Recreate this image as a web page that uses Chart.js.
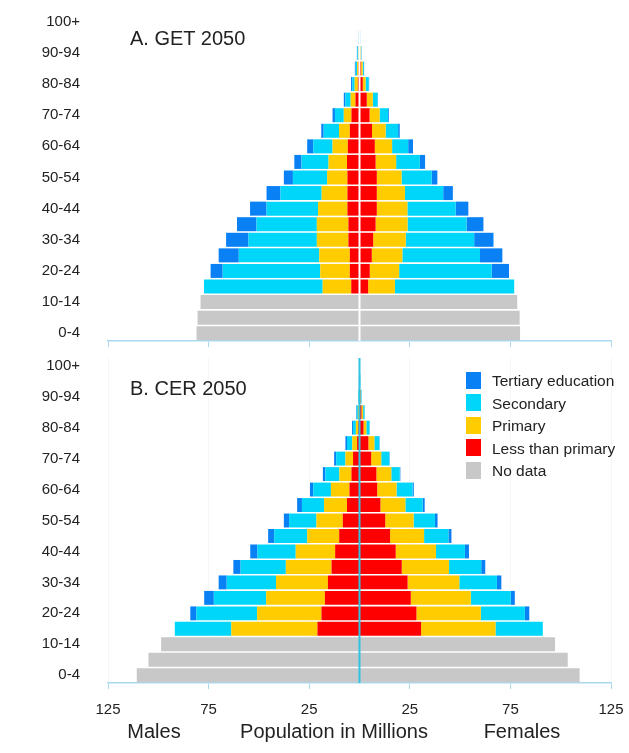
<!DOCTYPE html>
<html>
<head>
<meta charset="utf-8">
<script src="https://cdn.jsdelivr.net/npm/chart.js@4.4.1/dist/chart.umd.min.js"></script>
<style>
  body { margin: 0; background: #fff; }
  #wrap { position: relative; width: 629px; height: 753px; font-family: "Liberation Sans", Arial, Helvetica, sans-serif; color: #222; }
  canvas { position: absolute; left: 0; }
  .title { position: absolute; font-size: 20px; line-height: 20px; white-space: nowrap; }
  .foot { position: absolute; top: 721px; font-size: 20px; line-height: 20px; white-space: nowrap; transform: translateX(-50%); }
  #legend { position: absolute; left: 466px; top: 370px; font-size: 15.5px; }
  #legend div { height: 22.5px; line-height: 22.5px; white-space: nowrap; }
  #legend span { display: inline-block; width: 15px; height: 17px; vertical-align: middle; margin-right: 11px; margin-top: -3px; }
</style>
</head>
<body>
<div id="wrap">
  <canvas id="chartA" width="629" height="350" style="top:0"></canvas>
  <canvas id="chartB" width="629" height="403" style="top:350px"></canvas>
  <div class="title" style="left:130px;top:28px">A. GET 2050</div>
  <div class="title" style="left:130px;top:378px">B. CER 2050</div>
  <div id="legend"></div>
  <div class="foot" style="left:154px">Males</div>
  <div class="foot" style="left:334px">Population in Millions</div>
  <div class="foot" style="left:522px">Females</div>
</div>
<script>
// age groups, bottom to top
var ageGroups = ['0-4','5-9','10-14','15-19','20-24','25-29','30-34','35-39','40-44','45-49',
                 '50-54','55-59','60-64','65-69','70-74','75-79','80-84','85-89','90-94','95-99','100+'];
var xTicks = [-125, -75, -25, 25, 75, 125];

var levels = ['Less than primary', 'Primary', 'Secondary', 'Tertiary education', 'No data'];
var levelColors = ['#ff0000', '#ffcc00', '#00d6fa', '#0a80f5', '#c8c8c8'];
var legendOrder = [3, 2, 1, 0, 4];

// A. GET 2050 - males (millions)
var getMaleLess  = [null,null,null, 4.1, 4.8, 4.8, 5.5, 5.5, 6, 6, 6, 6.2, 5.8, 4.8, 4, 2, 0.8, 0.5, 0.2, 0.05, 0.02];
var getMalePrim  = [null,null,null, 14.2, 14.7, 15.2, 15.7, 15.7, 14.6, 12.8, 10.1, 9.2, 7.6, 5.4, 3.8, 2.4, 1.6, 0.7, 0.3, 0.1, 0.03];
var getMaleSec   = [null,null,null, 59, 48.5, 40, 34, 30, 25.6, 20.5, 17, 13.4, 9.6, 7.6, 4.4, 2.6, 1.2, 0.7, 0.5, 0.15, 0.05];
var getMaleTert  = [null,null,null, 0, 6, 10, 11.1, 9.7, 8.2, 6.9, 4.5, 3.6, 3, 1.2, 1.2, 0.8, 0.6, 0.4, 0.3, 0.1, 0.1];
var getMaleNone  = [81, 80.5, 79];
// A. GET 2050 - females
var getFemLess   = [null,null,null, 4.3, 5.1, 6.1, 6.8, 8, 8.6, 8.6, 8.6, 8, 7.6, 6.2, 5, 3.6, 1.6, 0.8, 0.3, 0.1, 0.03];
var getFemPrim   = [null,null,null, 13.3, 14.6, 15.2, 16.2, 15.9, 15.2, 14, 12.3, 10.2, 8.6, 6.8, 5, 3, 1.4, 0.8, 0.3, 0.1, 0.04];
var getFemSec    = [null,null,null, 59.3, 46, 38.6, 34, 29.3, 24, 19, 15, 11.8, 8, 6.2, 4.2, 2.4, 1.6, 0.6, 0.3, 0.1, 0.05];
var getFemTert   = [null,null,null, 0, 8.6, 11.1, 9.6, 8.4, 6.3, 4.8, 2.8, 2.6, 2.4, 0.8, 0.4, 0.2, 0.2, 0.1, 0.1, 0.05, 0.05];
var getFemNone   = [79.8, 79.6, 78.4];

// B. CER 2050 - males
var cerMaleLess  = [null,null,null, 20.9, 18.9, 17.2, 15.7, 13.9, 12.1, 10.1, 8.3, 6.2, 5, 4, 3.2, 1.2, 0.6, 0.3, 0.1, 0.02, 0.01];
var cerMalePrim  = [null,null,null, 42.8, 32, 29.2, 25.8, 22.7, 19.6, 15.9, 13.1, 11.4, 9.2, 6, 3.8, 2.4, 1.2, 0.5, 0.2, 0.05, 0.02];
var cerMaleSec   = [null,null,null, 28.1, 30.2, 26, 24.5, 22.5, 19, 16.4, 13.6, 11, 8.8, 7, 4.6, 2.6, 1.4, 0.6, 0.3, 0.15, 0.1];
var cerMaleTert  = [null,null,null, 0, 3, 4.8, 4, 3.6, 3.6, 3, 2.6, 2.4, 1.6, 1.2, 1, 0.8, 0.5, 0.3, 0.1, 0.08, 0.02];
var cerMaleNone  = [110.7, 104.9, 98.6];
// B. CER 2050 - females
var cerFemLess   = [null,null,null, 30.6, 28.3, 25.5, 23.9, 21, 18, 15.2, 12.8, 10.4, 8.8, 8.4, 5.8, 4.4, 2, 1, 0.4, 0.1, 0.03];
var cerFemPrim   = [null,null,null, 37, 32, 29.8, 25.7, 23.5, 20, 16.9, 14.1, 12.4, 9.6, 7.4, 5, 3, 1.4, 0.8, 0.3, 0.1, 0.03];
var cerFemSec    = [null,null,null, 23.5, 21.9, 19.9, 18.7, 16, 14.4, 12.1, 10.6, 8.6, 8, 4.2, 4, 2.4, 1.6, 0.7, 0.3, 0.15, 0.08];
var cerFemTert   = [null,null,null, 0, 2.2, 2, 2.2, 2, 2, 1.5, 1.3, 1, 0.6, 0.3, 0.2, 0.2, 0.1, 0.1, 0.05, 0.05, 0.02];
var cerFemNone   = [109.4, 103.5, 97.2];

// legend
var legendBox = document.getElementById('legend');
legendOrder.forEach(function(i) {
  var row = document.createElement('div');
  row.innerHTML = '<span style="background:' + levelColors[i] + '"></span>' + levels[i];
  legendBox.appendChild(row);
});

function neg(arr) {
  return arr.map(function(v) { return v == null ? null : -v; });
}

function makeDatasets(male, female) {
  var sets = [];
  male.forEach(function(arr, i) {
    sets.push({ label: levels[i], data: neg(arr), backgroundColor: levelColors[i] });
  });
  female.forEach(function(arr, i) {
    sets.push({ label: levels[i], data: arr, backgroundColor: levelColors[i] });
  });
  return sets;
}

var centerLine = {
  id: 'centerLine',
  afterDatasetsDraw: function(chart, args, opts) {
    var ctx = chart.ctx, a = chart.chartArea;
    var x = chart.scales.x.getPixelForValue(0);
    ctx.save();
    ctx.strokeStyle = opts.color;
    ctx.lineWidth = opts.width;
    ctx.beginPath();
    ctx.moveTo(x, a.top);
    ctx.lineTo(x, a.bottom);
    ctx.stroke();
    ctx.restore();
  }
};

Chart.defaults.font.family = '"Liberation Sans", Arial, Helvetica, sans-serif';
Chart.defaults.color = '#222';

function buildChart(id, male, female, opt) {
  return new Chart(document.getElementById(id), {
    type: 'bar',
    data: { labels: ageGroups, datasets: makeDatasets(male, female) },
    plugins: [centerLine],
    options: {
      indexAxis: 'y',
      responsive: false,
      animation: false,
      devicePixelRatio: 1,
      categoryPercentage: 1,
      barPercentage: 0.9,
      layout: { padding: opt.padding },
      plugins: {
        legend: { display: false },
        tooltip: { enabled: false },
        centerLine: { color: opt.lineColor, width: 2 }
      },
      scales: {
        y: {
          stacked: true,
          reverse: true,
          grid: { display: false },
          border: { display: false },
          ticks: {
            autoSkip: false,
            padding: 20,
            font: { size: 15 },
            color: '#222',
            callback: function(v, i) { return i % 2 === 0 ? this.getLabelForValue(v) : ''; }
          },
          afterFit: function(s) { s.width = 108; s.paddingTop = 0; s.paddingBottom = 0; }
        },
        x: {
          stacked: true,
          min: -125,
          max: 125,
          afterBuildTicks: function(s) { s.ticks = xTicks.map(function(v) { return { value: v }; }); },
          grid: { color: opt.gridColor, tickColor: '#a9d9ef', tickLength: 6 },
          border: { color: '#a9d9ef', width: 1.5 },
          ticks: {
            display: opt.showTicks,
            padding: 12,
            font: { size: 15 },
            color: '#222',
            callback: function(v) { return Math.abs(v); }
          },
          afterFit: function(s) { s.height = opt.xHeight; s.paddingLeft = 0; s.paddingRight = 0; }
        }
      }
    }
  });
}

buildChart('chartA',
  [getMaleLess, getMalePrim, getMaleSec, getMaleTert, getMaleNone],
  [getFemLess, getFemPrim, getFemSec, getFemTert, getFemNone],
  { padding: { top: 14, right: 18, bottom: 1, left: 0 }, lineColor: '#ffffff', gridColor: 'rgba(0,0,0,0)', showTicks: false, xHeight: 8 });

buildChart('chartB',
  [cerMaleLess, cerMalePrim, cerMaleSec, cerMaleTert, cerMaleNone],
  [cerFemLess, cerFemPrim, cerFemSec, cerFemTert, cerFemNone],
  { padding: { top: 8, right: 18, bottom: 30, left: 0 }, lineColor: '#2fc3e3', gridColor: 'rgba(0,0,0,0.035)', showTicks: true, xHeight: 40 });
</script>
</body>
</html>
